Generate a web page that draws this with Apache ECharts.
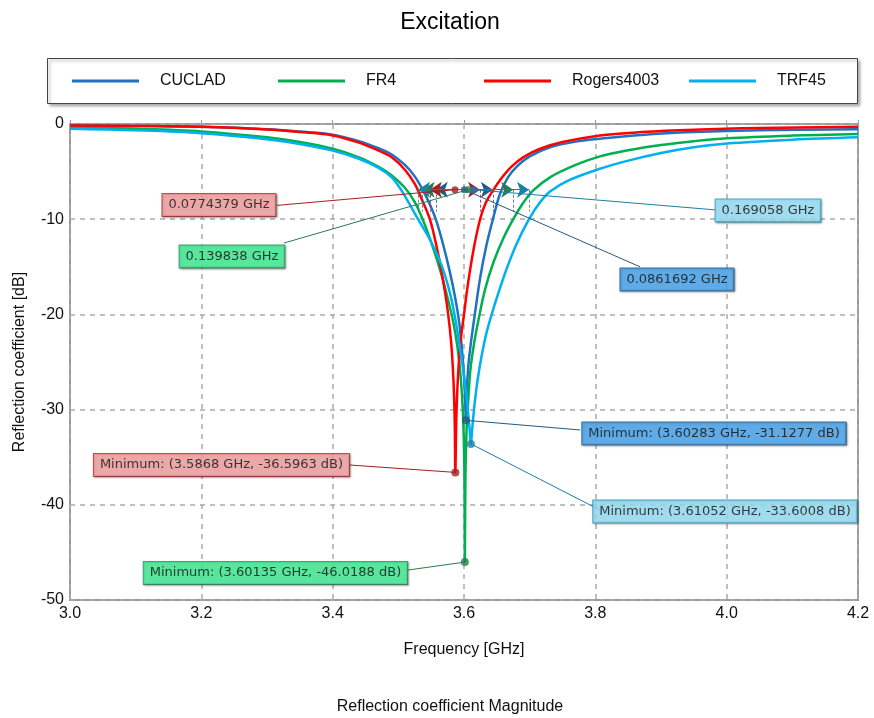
<!DOCTYPE html>
<html><head><meta charset="utf-8">
<script src="https://cdn.jsdelivr.net/npm/echarts@6/dist/echarts.min.js"></script>
<style>html,body{margin:0;padding:0;background:#fff}#c{width:874px;height:718px}</style>
</head><body><div id="c"></div><script>
// ---- data ----
const seriesNames = ['CUCLAD', 'FR4', 'Rogers4003', 'TRF45'];
const xTicks = [3.0, 3.2, 3.4, 3.6, 3.8, 4.0, 4.2];
const yTicks = [0, -10, -20, -30, -40, -50];

const cucladData = [[3.00,-0.15],[3.10,-0.2],[3.20,-0.3],[3.30,-0.55],[3.35,-0.8],[3.40,-1.12],[3.44,-1.8],[3.47,-2.55],[3.49,-3.2],[3.51,-4.3],[3.525,-5.5],[3.537,-6.9],[3.547,-8.3],[3.557,-10.0],[3.568,-12.6],[3.578,-15.4],[3.587,-18.4],[3.593,-21],[3.597,-23.8],[3.600,-26.5],[3.6018,-29],[3.60283,-31.1277],[3.604,-28.5],[3.6065,-25.5],[3.6105,-23],[3.6175,-19.5],[3.625,-16],[3.634,-12.8],[3.644,-10.0],[3.655,-7.3],[3.667,-5.6],[3.68,-4.5],[3.70,-3.4],[3.731,-2.45],[3.77,-1.85],[3.807,-1.55],[3.87,-1.15],[3.95,-0.85],[4.05,-0.65],[4.20,-0.55]];
const fr4Data = [[3.00,-0.35],[3.10,-0.5],[3.20,-0.78],[3.30,-1.4],[3.35,-1.9],[3.40,-2.6],[3.44,-3.5],[3.47,-4.5],[3.49,-5.4],[3.51,-6.7],[3.525,-8.2],[3.537,-10.0],[3.55,-12.4],[3.563,-15.2],[3.574,-18],[3.583,-20.6],[3.59,-23.4],[3.595,-26.6],[3.5985,-30.5],[3.6005,-36],[3.60135,-46.0188],[3.6022,-37],[3.604,-32],[3.606,-29.5],[3.6095,-26],[3.615,-23.2],[3.622,-20.6],[3.632,-17.4],[3.645,-14.5],[3.66,-12],[3.675,-10.0],[3.69,-8.3],[3.705,-7.0],[3.731,-5.6],[3.77,-4.3],[3.807,-3.4],[3.85,-2.75],[3.90,-2.2],[3.95,-1.8],[4.00,-1.5],[4.10,-1.22],[4.20,-1.05]];
const rogersData = [[3.00,-0.15],[3.10,-0.2],[3.20,-0.3],[3.30,-0.58],[3.35,-0.85],[3.40,-1.2],[3.44,-1.95],[3.47,-2.8],[3.49,-3.5],[3.51,-4.8],[3.525,-6.3],[3.535,-7.8],[3.548,-10.0],[3.558,-12.8],[3.567,-16.0],[3.575,-19.5],[3.5805,-23],[3.584,-27],[3.5858,-31],[3.5868,-36.5963],[3.5883,-31],[3.5905,-27],[3.5945,-23],[3.600,-20],[3.606,-16.8],[3.6145,-13.2],[3.6245,-10.0],[3.633,-8.3],[3.644,-7.0],[3.657,-5.7],[3.672,-4.5],[3.69,-3.5],[3.716,-2.6],[3.75,-1.9],[3.807,-1.2],[3.87,-0.85],[3.95,-0.6],[4.05,-0.43],[4.20,-0.3]];
const trf45Data = [[3.00,-0.5],[3.10,-0.66],[3.20,-0.96],[3.30,-1.6],[3.35,-2.1],[3.40,-2.8],[3.44,-3.65],[3.47,-4.6],[3.49,-5.6],[3.505,-7.0],[3.53,-10.0],[3.547,-12],[3.561,-14],[3.5715,-16],[3.5795,-18],[3.5855,-20],[3.5905,-22],[3.5955,-24.3],[3.601,-27],[3.605,-29.5],[3.6085,-32],[3.61052,-33.6008],[3.6125,-32],[3.616,-29.5],[3.6205,-27],[3.627,-24.3],[3.634,-22],[3.643,-19.8],[3.653,-17.6],[3.665,-15.2],[3.68,-12.6],[3.699,-10.0],[3.715,-8.3],[3.731,-7.1],[3.76,-5.9],[3.807,-4.7],[3.85,-3.85],[3.90,-3.05],[3.95,-2.45],[4.00,-2.05],[4.10,-1.65],[4.20,-1.4]];

// minima (freq GHz, dB) in series order
const minFreq = [3.60283, 3.60135, 3.5868, 3.61052];
const minDb = [-31.1277, -46.0188, -36.5963, -33.6008];
// -10 dB bandwidths (GHz) and their edges
const bandwidth = [0.0861692, 0.139838, 0.0774379, 0.169058];
const bwLeft = [3.557, 3.537, 3.548, 3.530];
const bwRight = [3.644, 3.675, 3.6245, 3.699];
const bwLevel = -6.9;

// ---- styling / layout ----
const colors = ['#1f72c0', '#00b050', '#ff0000', '#00b0f0'];
const dark = ['#235a86', '#2b7a4e', '#a32020', '#1b7fa6'];
const boxFill = ['#4aa8f0', '#42f096', '#f6a4a4', '#9be4fb'];
const boxBorder = ['#1f5c96', '#2a8c56', '#b02a2a', '#2a9cc4'];
// annotation box centres and leader-line ends (data coordinates)
const bwBoxPos = [[3.9243,-16.33],[3.2467,-13.92],[3.2269,-8.51],[4.0629,-9.09]];
const bwLineEnd = [[3.868,-15.0],[3.326,-12.5],[3.315,-8.55],[3.984,-9.03]];
const minBoxPos = [[3.9807,-32.51],[3.3129,-47.16],[3.2307,-35.82],[3.9974,-40.70]];
const minLineEnd = [[3.777,-32.14],[3.515,-46.85],[3.426,-35.82],[3.807,-40.55]];

const curveData = [cucladData, fr4Data, rogersData, trf45Data];
const F = 'Liberation Sans, Arial, sans-serif';
const BF = 'DejaVu Sans, sans-serif';

const series = [];
seriesNames.forEach((n, i) => {
  series.push({
    name: n, type: 'line', data: curveData[i], showSymbol: false,
    smooth: 0.35,
    lineStyle: {color: colors[i], width: 2.5}, itemStyle: {color: colors[i]},
    z: 2
  });
});
// bandwidth arrows
series.push({
  type: 'lines', coordinateSystem: 'cartesian2d', z: 4,
  symbol: ['arrow', 'arrow'], symbolSize: 12,
  data: seriesNames.map((n, i) => ({coords: [[bwLeft[i], bwLevel], [bwRight[i], bwLevel]], lineStyle: {color: dark[i], width: 1.2, opacity: 1}}))
});
// small dashed end markers
series.push({
  type: 'lines', coordinateSystem: 'cartesian2d', z: 3,
  data: seriesNames.flatMap((n, i) => [bwLeft[i], bwRight[i]].map(f => ({coords: [[f, bwLevel], [f, -9.2]], lineStyle: {color: dark[i], width: 1, type: [3, 2], opacity: 0.8}})))
});
// leader lines
series.push({
  type: 'lines', coordinateSystem: 'cartesian2d', z: 5,
  data: seriesNames.flatMap((n, i) => [
    {coords: [[(bwLeft[i] + bwRight[i]) / 2, bwLevel], bwLineEnd[i]], lineStyle: {color: dark[i], width: 1, opacity: 1}},
    {coords: [[minFreq[i], minDb[i]], minLineEnd[i]], lineStyle: {color: dark[i], width: 1, opacity: 1}}
  ])
});
// minimum dots
series.push({
  type: 'scatter', z: 6, symbolSize: 8,
  data: seriesNames.map((n, i) => ({value: [minFreq[i], minDb[i]], itemStyle: {color: dark[i]}}))
});
// centre dots of bandwidth markers
series.push({
  type: 'scatter', z: 6, symbolSize: 7,
  data: seriesNames.map((n, i) => ({value: [(bwLeft[i] + bwRight[i]) / 2, bwLevel], itemStyle: {color: dark[i]}}))
});
// annotation boxes
function boxItem(pos, text, i) {
  return {value: pos, label: {show: true, position: 'inside', formatter: text,
    backgroundColor: boxFill[i], borderColor: boxBorder[i], borderWidth: 1,
    padding: [5, 6, 4, 6], fontSize: 13, fontFamily: BF, color: '#111',
    shadowColor: 'rgba(0,0,0,0.35)', shadowBlur: 2, shadowOffsetX: 1, shadowOffsetY: 1}};
}
series.push({
  type: 'scatter', z: 10, symbolSize: 1, itemStyle: {color: 'rgba(0,0,0,0)'}, silent: true,
  data: seriesNames.flatMap((n, i) => [
    boxItem(bwBoxPos[i], bandwidth[i] + ' GHz', i),
    boxItem(minBoxPos[i], 'Minimum: (' + minFreq[i] + ' GHz, ' + minDb[i] + ' dB)', i)
  ])
});

const legendLeft = [72, 278, 484, 689];
const legends = seriesNames.map((n, i) => ({
  data: [n], left: legendLeft[i], top: 73, padding: 0, icon: 'rect', itemWidth: 67, itemHeight: 3,
  textStyle: {fontSize: 16, fontFamily: F, color: '#111', padding: [0, 0, 0, 16]}
}));

const chart = echarts.init(document.getElementById('c'), null, {renderer: 'canvas'});
chart.setOption({
  animation: false,
  backgroundColor: '#fff',
  title: [
    {text: 'Excitation', left: 445, top: 6, textAlign: 'center', textStyle: {fontSize: 23, fontWeight: 'normal', fontFamily: F, color: '#000'}},
    {text: 'Reflection coefficient Magnitude', left: 445, top: 694, textAlign: 'center', textStyle: {fontSize: 16, fontWeight: 'normal', fontFamily: F, color: '#111'}}
  ],
  graphic: [{type: 'rect', shape: {x: 47.5, y: 58.5, width: 810, height: 45}, z: -1,
    style: {fill: '#fff', stroke: '#444', lineWidth: 1, shadowColor: 'rgba(0,0,0,0.35)', shadowBlur: 3, shadowOffsetX: 2, shadowOffsetY: 2}}],
  legend: legends,
  grid: {left: 70, right: 16, top: 124, bottom: 118, show: true, borderColor: '#9a9a9a', borderWidth: 2, backgroundColor: 'transparent'},
  xAxis: {
    type: 'value', min: xTicks[0], max: xTicks[xTicks.length - 1], interval: 0.2,
    name: 'Frequency [GHz]', nameLocation: 'middle', nameGap: 42,
    nameTextStyle: {fontSize: 16, fontFamily: F, color: '#111'},
    axisLine: {show: false}, axisTick: {show: true, inside: true, length: 4, lineStyle: {color: '#999'}},
    axisLabel: {fontSize: 16, fontFamily: F, color: '#111', margin: 6, formatter: v => v.toFixed(1)},
    splitLine: {show: true, lineStyle: {color: '#aaa', width: 1.5, type: [5, 5]}}
  },
  yAxis: {
    type: 'value', min: yTicks[yTicks.length - 1], max: yTicks[0], interval: 10,
    name: 'Reflection coefficient [dB]', nameLocation: 'middle', nameGap: 42,
    nameTextStyle: {fontSize: 16, fontFamily: F, color: '#111'},
    axisLine: {show: false}, axisTick: {show: false},
    axisLabel: {fontSize: 16, fontFamily: F, color: '#111', margin: 6},
    splitLine: {show: true, lineStyle: {color: '#aaa', width: 1.5, type: [5, 5]}}
  },
  series: series
});
</script></body></html>
